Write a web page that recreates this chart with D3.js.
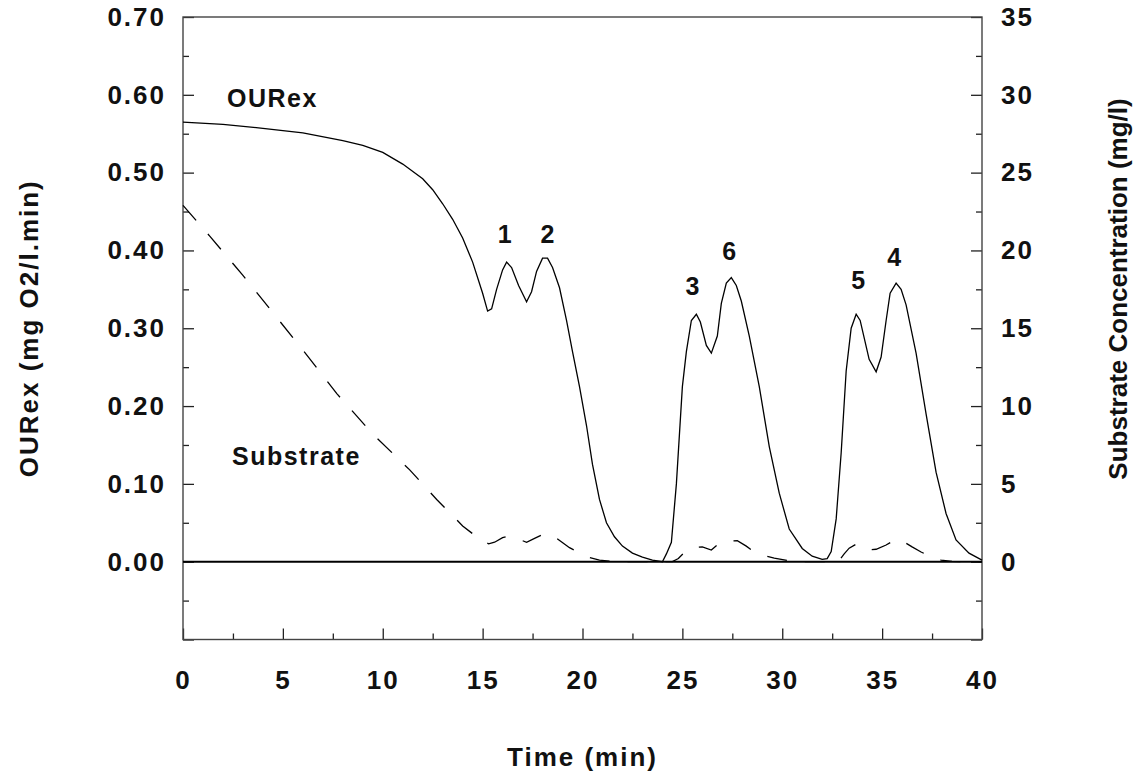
<!DOCTYPE html>
<html>
<head>
<meta charset="utf-8">
<script src="https://cdn.jsdelivr.net/npm/d3@7"></script>
<style>
body { margin: 0; background: #fff; }
svg text { font-family: "Liberation Sans", Arial, sans-serif; font-weight: bold; fill: #111; }
</style>
</head>
<body>
<svg id="chart" width="1138" height="778"></svg>
<script>
// OURex (left axis)
var ourTime = [0, 2, 4, 6, 8, 9, 10, 11, 12, 12.5, 13, 13.5, 14, 14.5, 15, 15.25, 15.45, 15.7, 16, 16.2, 16.45, 16.8, 17.2, 17.45, 17.7, 18, 18.25, 18.5, 18.85, 19.2, 19.5, 19.85, 20.2, 20.5, 20.85, 21.2, 21.6, 22, 22.5, 23, 23.5, 24, 24.2, 24.45, 24.7, 25, 25.2, 25.45, 25.7, 25.9, 26.2, 26.45, 26.75, 26.95, 27.2, 27.45, 27.7, 27.95, 28.35, 28.85, 29.35, 29.85, 30.35, 31, 31.5, 32, 32.25, 32.45, 32.7, 32.95, 33.2, 33.45, 33.7, 33.9, 34.35, 34.7, 34.95, 35.2, 35.4, 35.7, 35.95, 36.2, 36.7, 37.2, 37.7, 38.2, 38.7, 39.35, 40];
var ourValue = [0.565, 0.562, 0.557, 0.551, 0.541, 0.535, 0.526, 0.511, 0.492, 0.478, 0.46, 0.44, 0.416, 0.385, 0.345, 0.322, 0.325, 0.35, 0.375, 0.385, 0.378, 0.355, 0.334, 0.347, 0.373, 0.39, 0.39, 0.378, 0.352, 0.31, 0.27, 0.225, 0.175, 0.125, 0.08, 0.05, 0.032, 0.02, 0.011, 0.006, 0.002, 0.0, 0.01, 0.025, 0.1, 0.225, 0.27, 0.31, 0.318, 0.308, 0.278, 0.268, 0.29, 0.332, 0.358, 0.365, 0.355, 0.335, 0.29, 0.225, 0.148, 0.088, 0.042, 0.017, 0.007, 0.003, 0.004, 0.013, 0.055, 0.14, 0.245, 0.3, 0.318, 0.31, 0.26, 0.244, 0.263, 0.31, 0.345, 0.358, 0.35, 0.33, 0.268, 0.19, 0.115, 0.062, 0.028, 0.011, 0.002];

// Substrate concentration (right axis)
var subTime = [0, 1.35, 3, 4.5, 6, 7.7, 9.5, 11.35, 12.7, 14, 14.6, 15, 15.3, 15.6, 16, 16.3, 16.7, 17.2, 17.6, 18.1, 18.5, 19.35, 20.25, 20.85, 21.5, 22, 24.5, 24.8, 25.1, 25.5, 26, 26.45, 26.85, 27.2, 27.75, 28.2, 28.6, 29.1, 29.6, 30.5, 31, 32.8, 33.1, 33.35, 33.7, 34.25, 34.7, 35.2, 35.7, 36.1, 36.5, 36.95, 37.5, 37.95, 38.5, 39, 40];
var subValue = [22.9, 20.9, 18.4, 16.0, 13.6, 10.8, 8.2, 5.9, 4.0, 2.3, 1.7, 1.35, 1.15, 1.25, 1.55, 1.65, 1.5, 1.25, 1.5, 1.8, 1.7, 0.9, 0.3, 0.1, 0.02, 0, 0, 0.2, 0.6, 0.9, 0.95, 0.75, 1.2, 1.3, 1.35, 1.0, 0.62, 0.4, 0.23, 0.02, 0, 0, 0.5, 0.87, 1.13, 0.75, 0.8, 1.07, 1.45, 1.26, 0.95, 0.62, 0.3, 0.1, 0.02, 0, 0];

var xTicks = [0, 5, 10, 15, 20, 25, 30, 35, 40];
var leftTicks = [0, 0.1, 0.2, 0.3, 0.4, 0.5, 0.6, 0.7];
var rightTicks = [0, 5, 10, 15, 20, 25, 30, 35];

var peakLabels = ["1", "2", "3", "6", "5", "4"];
var peakTime = [16.1, 18.25, 25.5, 27.35, 33.8, 35.6];
var peakValue = [0.41, 0.41, 0.343, 0.388, 0.35, 0.38];

var svg = d3.select("#chart");
var plotLeft = 183, plotRight = 982, plotTop = 17, plotBottom = 639.5;

var x = d3.scaleLinear().domain([0, 40]).range([plotLeft, plotRight]);
var yL = d3.scaleLinear().domain([-0.1, 0.7]).range([plotBottom, plotTop]);
var yR = d3.scaleLinear().domain([-5, 35]).range([plotBottom, plotTop]);

function styleAxis(g) {
    g.select(".domain").remove();
    g.selectAll("line").attr("stroke", "#222").attr("stroke-width", 1.3);
    g.selectAll("text").style("font-size", "26px").style("letter-spacing", "2px").attr("fill", "#111");
}

// minor ticks
svg.append("g").attr("transform", "translate(0," + plotBottom + ")")
    .call(d3.axisBottom(x).tickValues(d3.range(2.5, 40, 5)).tickSize(-6).tickFormat(""))
    .call(styleAxis);
svg.append("g").attr("transform", "translate(" + plotLeft + ",0)")
    .call(d3.axisLeft(yL).tickValues(d3.range(-0.05, 0.7, 0.1)).tickSize(-6).tickFormat(""))
    .call(styleAxis);
svg.append("g").attr("transform", "translate(" + plotRight + ",0)")
    .call(d3.axisRight(yR).tickValues(d3.range(-2.5, 35, 5)).tickSize(-6).tickFormat(""))
    .call(styleAxis);

// major ticks and labels
svg.append("g").attr("transform", "translate(0," + plotBottom + ")")
    .call(d3.axisBottom(x).tickValues(xTicks).tickSize(-11).tickPadding(31).tickFormat(d3.format("d")))
    .call(styleAxis);
svg.append("g").attr("transform", "translate(" + plotLeft + ",0)")
    .call(d3.axisLeft(yL).tickValues(d3.range(-0.1, 0.75, 0.1)).tickSize(-11).tickFormat(""))
    .call(styleAxis);
svg.append("g").attr("transform", "translate(" + plotLeft + ",0)")
    .call(d3.axisLeft(yL).tickValues(leftTicks).tickSize(0).tickPadding(17).tickFormat(d3.format(".2f")))
    .call(styleAxis);
svg.append("g").attr("transform", "translate(" + plotRight + ",0)")
    .call(d3.axisRight(yR).tickValues(d3.range(-5, 36, 5)).tickSize(-11).tickFormat(""))
    .call(styleAxis);
svg.append("g").attr("transform", "translate(" + plotRight + ",0)")
    .call(d3.axisRight(yR).tickValues(rightTicks).tickSize(0).tickPadding(19).tickFormat(d3.format("d")))
    .call(styleAxis);

// frame
svg.append("rect").attr("x", plotLeft).attr("y", plotTop)
    .attr("width", plotRight - plotLeft).attr("height", plotBottom - plotTop)
    .attr("fill", "none").attr("stroke", "#444").attr("stroke-width", 1.4);

// zero line
svg.append("line").attr("x1", plotLeft).attr("x2", plotRight)
    .attr("y1", yL(0)).attr("y2", yL(0))
    .attr("stroke", "#000").attr("stroke-width", 2);

var ourLine = d3.line().x(function(d, i) { return x(ourTime[i]); }).y(function(d) { return yL(d); });
svg.append("path").attr("d", ourLine(ourValue))
    .attr("fill", "none").attr("stroke", "#000").attr("stroke-width", 1.3);

var subLine = d3.line().x(function(d, i) { return x(subTime[i]); }).y(function(d) { return yR(d); });
svg.append("path").attr("d", subLine(subValue))
    .attr("fill", "none").attr("stroke", "#000").attr("stroke-width", 1.3)
    .attr("stroke-dasharray", "20,18");

// labels inside plot
svg.append("text").attr("x", 227).attr("y", 107).style("font-size", "25px").style("letter-spacing", "1.5px").text("OURex");
svg.append("text").attr("x", 232).attr("y", 465).style("font-size", "25px").style("letter-spacing", "1.5px").text("Substrate");

svg.selectAll("text.peak").data(peakLabels).enter().append("text")
    .attr("class", "peak")
    .attr("x", function(d, i) { return x(peakTime[i]); })
    .attr("y", function(d, i) { return yL(peakValue[i]); })
    .attr("text-anchor", "middle")
    .style("font-size", "25px")
    .text(function(d) { return d; });

// axis titles
svg.append("text").attr("x", (plotLeft + plotRight) / 2).attr("y", 766)
    .attr("text-anchor", "middle").style("font-size", "26px").style("letter-spacing", "2px")
    .text("Time (min)");
svg.append("text").attr("transform", "translate(38," + ((plotTop + plotBottom) / 2) + ") rotate(-90)")
    .attr("text-anchor", "middle").style("font-size", "26px").style("letter-spacing", "2px")
    .text("OURex (mg O2/l.min)");
svg.append("text").attr("transform", "translate(1127,289) rotate(-90)")
    .attr("text-anchor", "middle").style("font-size", "26px")
    .text("Substrate Concentration (mg/l)");
</script>
</body>
</html>
